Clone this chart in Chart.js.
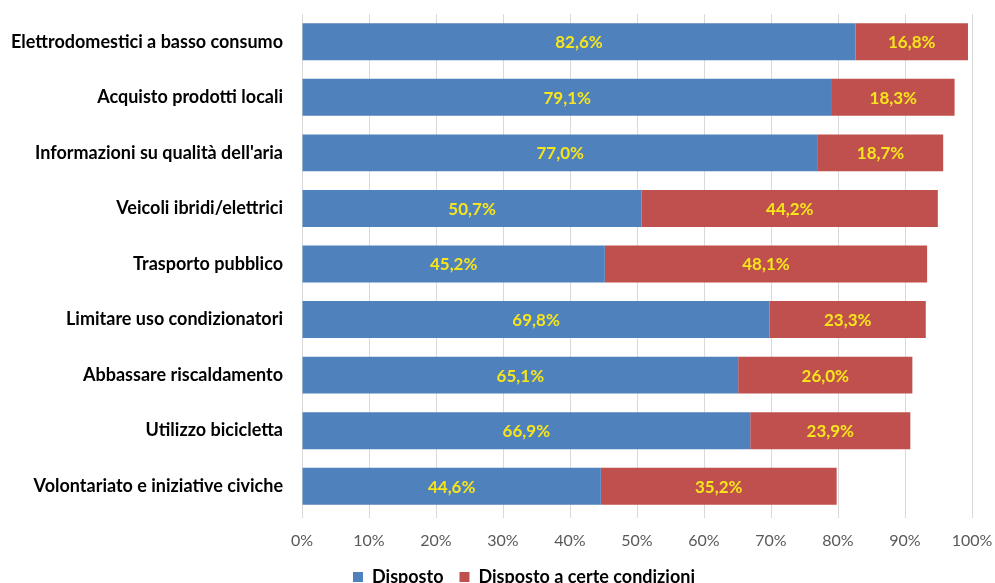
<!DOCTYPE html>
<html>
<head>
<meta charset="utf-8">
<script src="https://cdn.jsdelivr.net/npm/chart.js@4"></script>
<style>
    html, body { margin: 0; padding: 0; background: #fff; }
    #wrap { width: 995px; height: 583px; }
</style>
</head>
<body>
<div id="wrap"><canvas id="grafico"></canvas></div>
<script>
const categorie = [
    'Elettrodomestici a basso consumo',
    'Acquisto prodotti locali',
    "Informazioni su qualità dell'aria",
    'Veicoli ibridi/elettrici',
    'Trasporto pubblico',
    'Limitare uso condizionatori',
    'Abbassare riscaldamento',
    'Utilizzo bicicletta',
    'Volontariato e iniziative civiche'
]
const disposto = [82.6, 79.1, 77.0, 50.7, 45.2, 69.8, 65.1, 66.9, 44.6]
const condizioni = [16.8, 18.3, 18.7, 44.2, 48.1, 23.3, 26.0, 23.9, 35.2]
const nomiSerie = ['Disposto', 'Disposto a certe condizioni']

function formatPct(v) {
    return v.toFixed(1).replace('.', ',') + '%'
}

// etichette gialle al centro di ogni barra
const etichette = {
    id: 'etichette',
    afterLayout(chart) {
        // legenda un po' spostata a destra come nell'originale
        chart.legend.left += 38
        chart.legend.right += 38
    },
    afterDatasetsDraw(chart) {
        const ctx = chart.ctx
        ctx.save()
        ctx.font = 'bold 17px Lato'
        ctx.fillStyle = '#f7e51c'
        ctx.textAlign = 'center'
        ctx.textBaseline = 'middle'
        chart.data.datasets.forEach((ds, i) => {
            chart.getDatasetMeta(i).data.forEach((bar, j) => {
                ctx.fillText(formatPct(ds.data[j]), (bar.x + bar.base) / 2, bar.y + 1)
            })
        })
        ctx.restore()
    }
}

new Chart(document.getElementById('grafico'), {
    type: 'bar',
    data: {
        labels: categorie,
        datasets: [
            {
                label: nomiSerie[0],
                data: disposto,
                backgroundColor: '#4f81bd',
                borderWidth: 0,
                categoryPercentage: 1,
                barPercentage: 0.665
            },
            {
                label: nomiSerie[1],
                data: condizioni,
                backgroundColor: '#c0504d',
                borderWidth: 0,
                categoryPercentage: 1,
                barPercentage: 0.665
            }
        ]
    },
    options: {
        indexAxis: 'y',
        responsive: true,
        maintainAspectRatio: false,
        animation: false,
        layout: { padding: { top: 14, right: 23, left: 0, bottom: -13 } },
        plugins: {
            tooltip: { enabled: false },
            legend: {
                position: 'bottom',
                labels: {
                    boxWidth: 10,
                    boxHeight: 10,
                    padding: 16,
                    color: '#000',
                    font: { family: 'Lato', size: 18, weight: 'bold' }
                }
            }
        },
        scales: {
            x: {
                stacked: true,
                min: 0,
                max: 100,
                ticks: {
                    stepSize: 10,
                    padding: 13,
                    color: '#595959',
                    font: { family: 'Lato', size: 16 },
                    callback: v => v + '%'
                },
                grid: { color: '#d9d9d9', tickLength: 4 },
                border: { display: false },
                afterFit: s => {
                    s.height = 38
                    s.paddingLeft = 0
                    s.paddingRight = 0
                }
            },
            y: {
                stacked: true,
                ticks: {
                    padding: 11,
                    color: '#000',
                    font: { family: 'Lato', size: 18, weight: 'bold' }
                },
                grid: { display: false },
                border: { display: false },
                afterFit: s => {
                    s.width = 302
                    s.paddingTop = 0
                    s.paddingBottom = 0
                }
            }
        }
    },
    plugins: [etichette]
})
</script>
</body>
</html>
